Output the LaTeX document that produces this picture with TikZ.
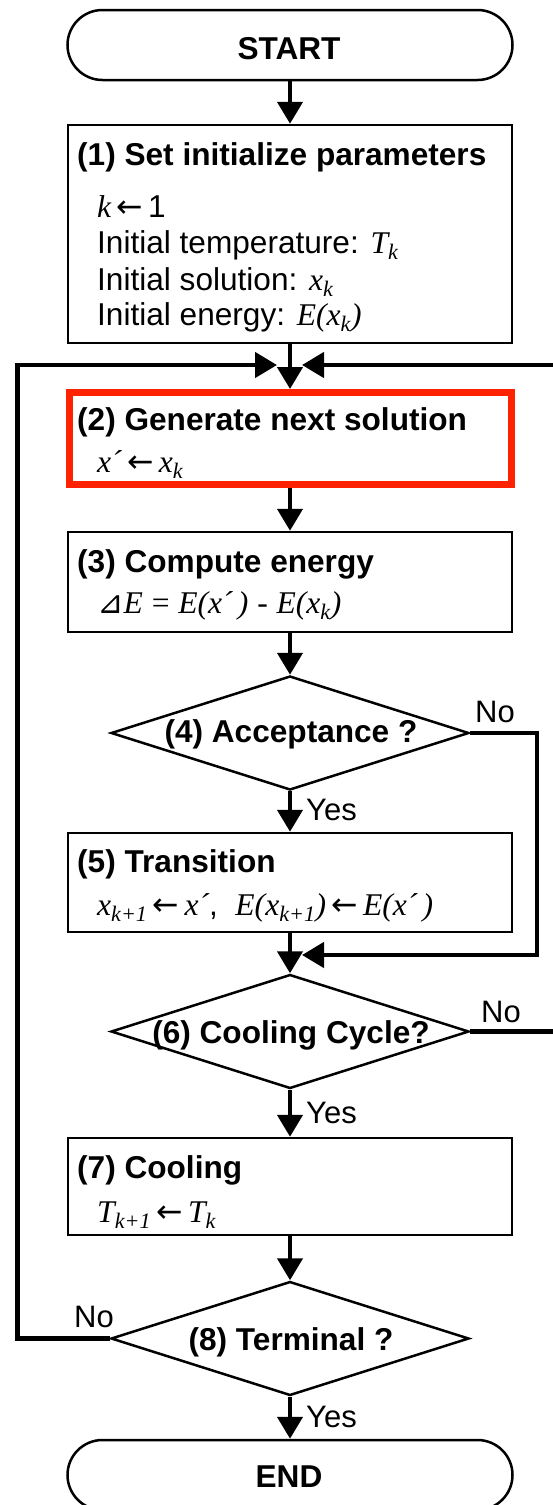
\documentclass[tikz,border=0pt]{standalone}
\usepackage{fontspec}
\setmainfont{Liberation Sans}
\newfontfamily\tmsfont{Liberation Serif}
\newfontfamily\dvsfont{DejaVu Sans}
\usetikzlibrary{arrows.meta,shapes.geometric}
\newcommand{\vi}[1]{{\tmsfont\itshape #1}}
\newcommand{\sbk}[1]{\textsubscript{\tmsfont\itshape #1}}
\newcommand{\larr}{{\dvsfont\,←\,}}
\definecolor{hired}{RGB}{255,34,0}
\tikzset{
  boxnode/.style={draw, line width=2.5pt, minimum width=444pt, inner sep=0pt},
  termnode/.style={draw, line width=2.5pt, rounded corners=35pt, minimum width=445pt, minimum height=70pt, inner sep=0pt},
  dianode/.style={draw, shape=diamond, line width=2.5pt, minimum width=358pt, minimum height=114pt, inner sep=0pt},
  conn/.style={line width=4.5pt, -{Triangle[length=22pt,width=25pt]}},
  ttl/.style={font=\fontsize{31.6pt}{37pt}\selectfont\bfseries, anchor=base west, inner sep=0pt},
  bdy/.style={font=\fontsize{31.6pt}{37pt}\selectfont, anchor=base west, inner sep=0pt},
  lbl/.style={font=\fontsize{31pt}{37pt}\selectfont, anchor=base west, inner sep=0pt},
  ctr/.style={font=\fontsize{31.6pt}{37pt}\selectfont\bfseries, anchor=base, inner sep=0pt}
}
\begin{document}
\begin{tikzpicture}[x=1pt,y=-1pt]
\useasboundingbox (0,0) rectangle (552,1505);
% shapes
\node[termnode] (start) at (290,45) {};
\node[boxnode, minimum height=218pt] (b1) at (290,234) {};
\node[draw=hired, line width=7pt, minimum width=442pt, minimum height=92pt, inner sep=0pt] (b2) at (290,438.5) {};
\node[boxnode, minimum height=100pt] (b3) at (290,582) {};
\node[dianode] (d4) at (290,733) {};
\node[boxnode, minimum height=99pt] (b5) at (290,882.5) {};
\node[dianode] (d6) at (290,1031.5) {};
\node[boxnode, minimum height=97pt] (b7) at (290,1186.5) {};
\node[dianode] (d8) at (290,1338.5) {};
\node[termnode] (end) at (290,1475) {};
% texts
\node[ctr] (tstart) at (289,59) {START};
\node[ttl] (t1) at (77,165) {(1) Set initialize parameters};
\node[bdy] (t1a) at (97,217) {\vi{k}\larr 1};
\node[bdy] (t1b) at (97,253) {Initial temperature: \vi{T}\sbk{k}};
\node[bdy] (t1c) at (97,290) {Initial solution: \vi{x}\sbk{k}};
\node[bdy] (t1d) at (97,325) {Initial energy: \vi{E(x}\sbk{k}\vi{)}};
\node[ttl] (t2) at (77,430) {(2) Generate next solution};
\node[bdy] (t2a) at (97,472) {\vi{x´}\larr\vi{x}\sbk{k}};
\node[ttl] (t3) at (77,572) {(3) Compute energy};
\node[bdy] (t3a) at (97,613) {{\dvsfont ⊿}\vi{E} {\tmsfont =} \vi{E(x´\,)} {\tmsfont -} \vi{E(x}\sbk{k}\vi{)}};
\node[ctr] (t4) at (291,742) {(4) Acceptance ?};
\node[ttl] (t5) at (77,872) {(5) Transition};
\node[bdy] (t5a) at (97,915) {\vi{x}\sbk{k+1}\larr\vi{x´},\ \ \vi{E(x}\sbk{k+1}\vi{)}\larr\vi{E(x´\,)}};
\node[ctr] (t6) at (291,1043) {(6) Cooling Cycle?};
\node[ttl] (t7) at (77,1178) {(7) Cooling};
\node[bdy] (t7a) at (97,1222) {\vi{T}\sbk{k+1}\larr\vi{T}\sbk{k}};
\node[ctr] (t8) at (291,1350) {(8) Terminal ?};
\node[ctr] (tend) at (289,1487) {END};
% labels
\node[lbl] (y4) at (306,820) {Yes};
\node[lbl] (n4) at (475,722) {No};
\node[lbl] (y6) at (306,1123) {Yes};
\node[lbl] (n6) at (481,1022) {No};
\node[lbl] (y8) at (306,1427) {Yes};
\node[lbl] (n8) at (74,1327) {No};
% loop coordinates
\coordinate (mL) at (277,365);
\coordinate (mR) at (302,365);
\coordinate (mR2) at (302,955);
\coordinate (L1) at (17.6,1338.5);
\coordinate (L2) at (17.6,365);
\coordinate (R1) at (537,733);
\coordinate (R2) at (537,955);
\coordinate (S1) at (575,1031.5);
\coordinate (S2) at (575,365);
% connectors
\draw[conn] (start.south) -- (b1.north);
\draw[conn] (b1.south) -- (b2.north);
\draw[conn] (b2.south) -- (b3.north);
\draw[conn] (b3.south) -- (d4.north);
\draw[conn] (d4.south) -- (b5.north);
\draw[conn] (b5.south) -- (d6.north);
\draw[conn] (d6.south) -- (b7.north);
\draw[conn] (b7.south) -- (d8.north);
\draw[conn] (d8.south) -- (end.north);
\draw[conn] (d8.west) -- (L1) -- (L2) -- (mL);
\draw[conn] (d4.east) -- (R1) -- (R2) -- (mR2);
\draw[conn] (d6.east) -- (S1) -- (S2) -- (mR);
\end{tikzpicture}
\end{document}
